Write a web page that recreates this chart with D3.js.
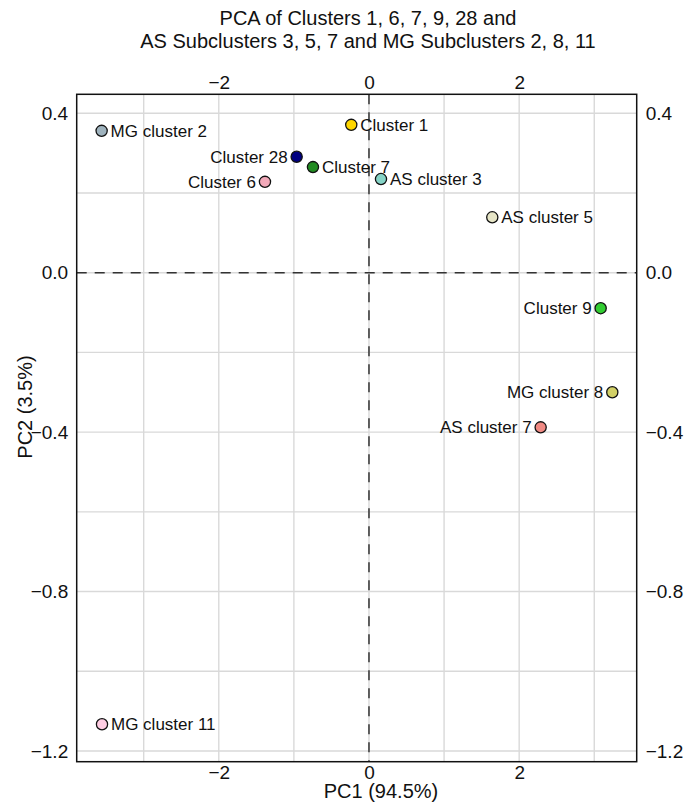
<html>
<head>
  <meta charset="UTF-8">
  <title>PCA of Clusters</title>
  <script src="https://d3js.org/d3.v7.min.js"></script>
  <style>
    body { margin: 0; background: #fff; }
    text { font-family: "Liberation Sans", Arial, Helvetica, sans-serif; fill: #111; }
  </style>
</head>
<body>
  <svg id="chart" width="688" height="804"></svg>
  <script>
    /* Data */
    const clusterNames = ["MG cluster 2", "Cluster 1", "Cluster 28", "Cluster 7", "Cluster 6",
      "AS cluster 3", "AS cluster 5", "Cluster 9", "MG cluster 8", "AS cluster 7", "MG cluster 11"];
    const pc1Values = [-3.56, -0.236, -0.963, -0.746, -1.385, 0.16, 1.642, 3.085, 3.24, 2.286, -3.555];
    const pc2Values = [0.356, 0.371, 0.291, 0.265, 0.228, 0.235, 0.139, -0.089, -0.300, -0.388, -1.133];
    const xTickLabels = [-2, 0, 2];
    const yTickLabels = [0.4, 0.0, -0.4, -0.8, -1.2];
    const xGridValues = [-3, -2, -1, 0, 1, 2, 3];
    const yGridValues = [0.4, 0.2, 0.0, -0.2, -0.4, -0.6, -0.8, -1.0, -1.2];

    // styling (kept apart from the data)
    const pointColors = ["#9fb3be", "#ffd700", "#000080", "#228b22", "#f2a9b9",
      "#85d3c6", "#e6e5c6", "#32cd32", "#d2d067", "#f08a84", "#ffcde3"];
    const labelsOnLeft = new Set(["Cluster 28", "Cluster 6", "Cluster 9", "MG cluster 8", "AS cluster 7"]);

    const margin = { top: 94.3, right: 51.3, bottom: 42.3, left: 76.7 };
    const svg = d3.select("#chart");
    const width = +svg.attr("width");
    const height = +svg.attr("height");
    const innerW = width - margin.left - margin.right;
    const innerH = height - margin.top - margin.bottom;

    const xScale = d3.scaleLinear().domain([-3.892, 3.565]).range([0, innerW]);
    const yScale = d3.scaleLinear().domain([-1.227, 0.4477]).range([innerH, 0]);

    const plot = svg.append("g").attr("transform", `translate(${margin.left},${margin.top})`);

    // gridlines
    plot.append("g").selectAll("line").data(xGridValues).join("line")
      .attr("x1", d => xScale(d)).attr("x2", d => xScale(d))
      .attr("y1", 0).attr("y2", innerH)
      .attr("stroke", "#d9d9d9").attr("stroke-width", 1.4);
    plot.append("g").selectAll("line").data(yGridValues).join("line")
      .attr("x1", 0).attr("x2", innerW)
      .attr("y1", d => yScale(d)).attr("y2", d => yScale(d))
      .attr("stroke", "#d9d9d9").attr("stroke-width", 1.4);

    // zero lines
    plot.append("line")
      .attr("x1", xScale(0)).attr("x2", xScale(0)).attr("y1", 0).attr("y2", innerH)
      .attr("stroke", "#333").attr("stroke-width", 1.5).attr("stroke-dasharray", "10,8");
    plot.append("line")
      .attr("x1", 0).attr("x2", innerW).attr("y1", yScale(0)).attr("y2", yScale(0))
      .attr("stroke", "#333").attr("stroke-width", 1.5).attr("stroke-dasharray", "10,8");

    // axes
    const tickFont = "19px";
    const fmtX = d3.format("d");
    const fmtY = d3.format(".1f");
    const axes = [
      { a: d3.axisTop(xScale).tickValues(xTickLabels).tickFormat(fmtX).tickSize(0).tickPadding(5.3), t: "translate(0,0)" },
      { a: d3.axisBottom(xScale).tickValues(xTickLabels).tickFormat(fmtX).tickSize(0).tickPadding(3.5), t: `translate(0,${innerH})` },
      { a: d3.axisLeft(yScale).tickValues(yTickLabels).tickFormat(fmtY).tickSize(0).tickPadding(8.5), t: "translate(0,0)" },
      { a: d3.axisRight(yScale).tickValues(yTickLabels).tickFormat(fmtY).tickSize(0).tickPadding(9), t: `translate(${innerW},0)` }
    ];
    axes.forEach(ax => {
      const g = plot.append("g").attr("transform", ax.t).call(ax.a);
      g.select(".domain").remove();
      g.selectAll("text").style("font-size", tickFont)
        .style("font-family", '"Liberation Sans", Arial, sans-serif').attr("fill", "#111");
    });

    // border
    plot.append("rect")
      .attr("x", 0).attr("y", 0).attr("width", innerW).attr("height", innerH)
      .attr("fill", "none").attr("stroke", "#111").attr("stroke-width", 1.5);

    // points and labels
    const points = clusterNames.map((name, i) => ({ name, pc1: pc1Values[i], pc2: pc2Values[i], color: pointColors[i] }));

    plot.append("g").selectAll("circle").data(points).join("circle")
      .attr("cx", d => xScale(d.pc1))
      .attr("cy", d => yScale(d.pc2))
      .attr("r", 5.6)
      .attr("fill", d => d.color)
      .attr("stroke", "#111")
      .attr("stroke-width", 1.3);

    plot.append("g").selectAll("text").data(points).join("text")
      .attr("x", d => xScale(d.pc1) + (labelsOnLeft.has(d.name) ? -9 : 9))
      .attr("y", d => yScale(d.pc2))
      .attr("dy", "0.36em")
      .attr("text-anchor", d => labelsOnLeft.has(d.name) ? "end" : "start")
      .style("font-size", "17px")
      .text(d => d.name);

    // titles
    svg.append("text")
      .attr("x", 368).attr("y", 25)
      .attr("text-anchor", "middle").style("font-size", "20px")
      .text("PCA of Clusters 1, 6, 7, 9, 28 and");
    svg.append("text")
      .attr("x", 368).attr("y", 47.5)
      .attr("text-anchor", "middle").style("font-size", "20px")
      .text("AS Subclusters 3, 5, 7 and MG Subclusters 2, 8, 11");

    svg.append("text")
      .attr("x", 381).attr("y", 798)
      .attr("text-anchor", "middle").style("font-size", "20px")
      .text("PC1 (94.5%)");
    svg.append("text")
      .attr("transform", "translate(32,407) rotate(-90)")
      .attr("text-anchor", "middle").style("font-size", "20px")
      .text("PC2 (3.5%)");
  </script>
</body>
</html>
